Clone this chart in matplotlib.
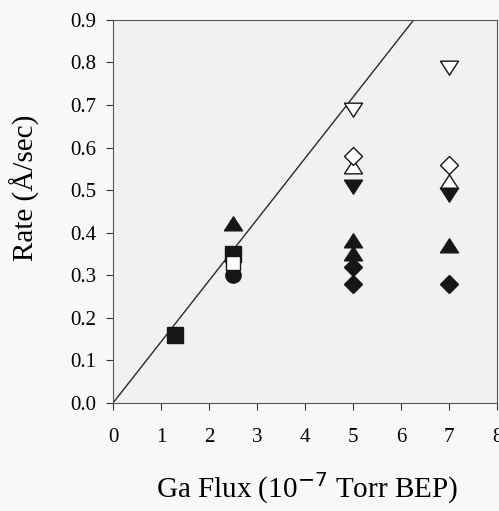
import matplotlib
matplotlib.use("Agg")
import matplotlib.pyplot as plt
from matplotlib.path import Path
import numpy as np

plt.rcParams['font.family'] = ['Liberation Serif', 'DejaVu Serif']

# Data (Ga flux in 1e-7 Torr BEP, rate in A/sec)
filled_square_x = [1.3, 2.5]
filled_square_y = [0.16, 0.35]
filled_circle_x = [1.3, 2.5]
filled_circle_y = [0.16, 0.30]
open_square_x = [2.5]
open_square_y = [0.33]
filled_tri_up_x = [2.5, 5, 5, 7]
filled_tri_up_y = [0.42, 0.38, 0.35, 0.37]
open_tri_down_x = [5, 7]
open_tri_down_y = [0.69, 0.79]
open_diamond_x = [5, 7]
open_diamond_y = [0.58, 0.56]
open_tri_up_x = [5, 7]
open_tri_up_y = [0.555, 0.52]
filled_tri_down_x = [5, 7]
filled_tri_down_y = [0.51, 0.49]
filled_diamond_x = [5, 5, 7]
filled_diamond_y = [0.32, 0.28, 0.28]

line_slope = 0.1437
line_x = [0, 8]

xticks = [0, 1, 2, 3, 4, 5, 6, 7, 8]
yticks = [0.0, 0.1, 0.2, 0.3, 0.4, 0.5, 0.6, 0.7, 0.8, 0.9]

fig = plt.figure(figsize=(4.99, 5.11), dpi=100)
fig.patch.set_facecolor('#f8f8f8')
ax = fig.add_axes([0.2265, 0.2114, 0.7695, 0.7496])
ax.set_facecolor('#f1f1f1')

ink = '#161616'
ax.plot(line_x, [line_slope * v for v in line_x], color='#2a2a2a', lw=1.0, zorder=1)

tri_up = Path([(-1, -0.7), (1, -0.7), (0, 0.85), (-1, -0.7)], closed=True)
tri_dn = Path([(-1, 0.7), (1, 0.7), (0, -0.85), (-1, 0.7)], closed=True)
ms_tri = 13
ms_c = 11
ms_d = 9.2

ax.plot(filled_square_x, filled_square_y, 's', ms=ms_c, color=ink, zorder=3)
ax.plot(filled_circle_x, filled_circle_y, 'o', ms=ms_c, color=ink, zorder=3)
ax.plot(open_square_x, open_square_y, 's', ms=ms_c - 1, mfc='white', mec=ink, mew=1.0, zorder=4)
ax.plot(filled_tri_up_x, filled_tri_up_y, marker=tri_up, ls='none', ms=ms_tri, color=ink, zorder=3)
ax.plot(open_tri_down_x, open_tri_down_y, marker=tri_dn, ls='none', ms=ms_tri, mfc='white', mec=ink, mew=1.0, zorder=3)
ax.plot(open_diamond_x, open_diamond_y, 'D', ms=ms_d, mfc='white', mec=ink, mew=1.0, zorder=4)
ax.plot(open_tri_up_x, open_tri_up_y, marker=tri_up, ls='none', ms=ms_tri, mfc='white', mec=ink, mew=1.0, zorder=3)
ax.plot(filled_tri_down_x, filled_tri_down_y, marker=tri_dn, ls='none', ms=ms_tri, color=ink, zorder=3)
ax.plot(filled_diamond_x, filled_diamond_y, 'D', ms=ms_d, color=ink, zorder=3)

ax.set_xlim(0, 8)
ax.set_ylim(0, 0.9)
ax.set_xticks(xticks)
ax.set_yticks(yticks)
ax.set_yticklabels([f"{v:.1f}" for v in yticks])
ax.tick_params(direction='out', length=5, width=0.8, labelsize=15, color='#333333')
ax.tick_params(axis='y', pad=7)
ax.tick_params(axis='x', pad=13)
for s in ax.spines.values():
    s.set_color('#555555')
    s.set_linewidth(0.8)

ax.set_xlabel(r"Ga Flux (10$^{-7}$ Torr BEP)", fontsize=21, ha='center', va='center')
ax.set_ylabel("Rate (Å/sec)", fontsize=21, ha='center', va='center')
ax.xaxis.set_label_coords(0.505, -0.222)
ax.yaxis.set_label_coords(-0.229, 0.561)

fig.savefig("out.png", dpi=100)
